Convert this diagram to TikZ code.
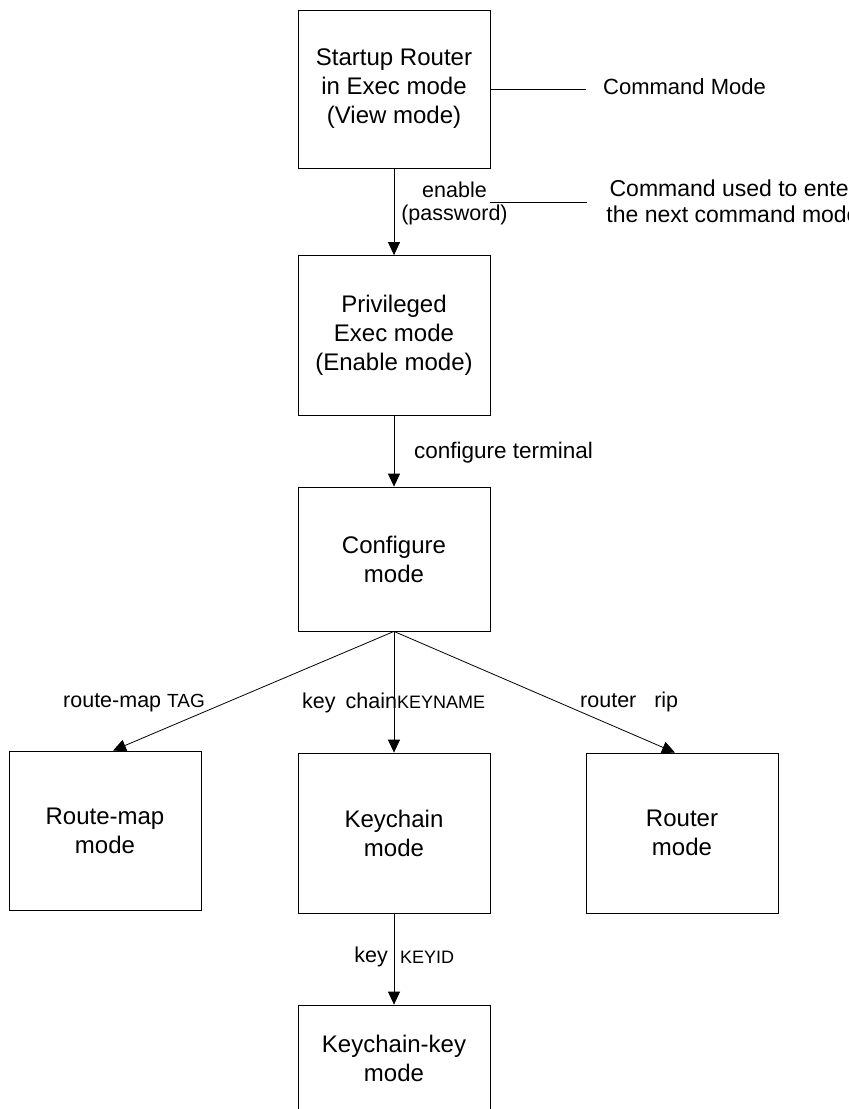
\documentclass[tikz,border=0pt]{standalone}
\usepackage{fontspec}
\setmainfont{Liberation Sans}
\usetikzlibrary{arrows.meta}
\tikzset{
  modebox/.style={draw=black, line width=0.8pt, rectangle, minimum width=192pt, inner sep=0pt, align=center, font=\fontsize{24}{29}\selectfont},
  flow/.style={draw=black, line width=0.8pt, -{Triangle[width=12pt,length=13pt]}},
  note/.style={draw=black, line width=0.8pt},
  lbl/.style={inner sep=0pt, font=\fontsize{21.5}{23}\selectfont},
  caps/.style={inner sep=0pt, font=\fontsize{18}{21}\selectfont},
  ann/.style={inner sep=0pt, align=center, font=\fontsize{22}{26}\selectfont}
}
\begin{document}
\begin{tikzpicture}[x=1pt,y=-1pt]
\useasboundingbox (0,0) rectangle (849,1109);
\fill[white] (0,0) rectangle (849,1109);

\node[modebox, minimum height=158pt] (b1) at (394,89) {Startup Router\\in Exec mode\\(View mode)};
\node[modebox, minimum height=160pt] (b2) at (394,335.5) {Privileged\\Exec mode\\(Enable mode)};
\node[modebox, minimum height=144pt] (b3) at (394,559) {Configure\\mode};
\node[modebox, minimum height=159pt] (b4) at (105,830.5) {Route-map\\mode};
\node[modebox, minimum height=160pt] (b5) at (394,833) {Keychain\\mode};
\node[modebox, minimum height=160pt] (b6) at (682,833) {Router\\mode};
\node[modebox, minimum height=106pt] (b7) at (394,1058) {Keychain-key\\mode};

\draw[flow] (b1.south) -- (b2.north);
\draw[flow] (b2.south) -- (b3.north);
\draw[flow] (b3.south) -- ([xshift=8pt]b4.north);
\draw[flow] (b3.south) -- (b5.north);
\draw[flow] (b3.south) -- ([xshift=-7pt]b6.north);
\draw[flow] (b5.south) -- (b7.north);

% annotations
\coordinate (c1) at (586,89);
\draw[note] (b1.east) -- (c1);
\node[ann, anchor=west] (cmdmode) at (603,87) {Command Mode};

\coordinate (e1) at (490,202);
\coordinate (e2) at (587,202);
\draw[note] (e1) -- (e2);
\node[ann, font=\fontsize{23}{26}\selectfont] (cmdused) at (733,201) {Command used to enter\\the next command mode};

% edge labels
\node[lbl, align=center] (lenable) at (454.5,203) {enable\\(password)};
\node[lbl, anchor=west, font=\fontsize{22.5}{24}\selectfont] (lconf) at (414,453) {configure terminal};
\node[lbl, anchor=west] (lroute) at (63,703) {route-map \fontsize{19}{21}\selectfont TAG};
\node[lbl, anchor=west] (lkey) at (302,703) {key\hspace{4pt} chain\fontsize{18}{21}\selectfont KEYNAME};
\node[lbl, anchor=west] (lrip) at (580,702) {router\ \ \ rip};
\node[lbl, anchor=east] (lkey2) at (388,957) {key};
\node[caps, anchor=west] (lkeyid) at (400,957) {KEYID};
\end{tikzpicture}
\end{document}
